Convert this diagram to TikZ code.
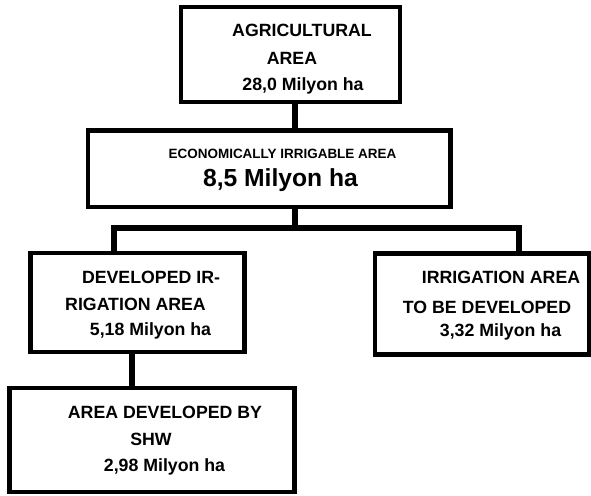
\documentclass[tikz,border=0pt]{standalone}
\usepackage{fontspec}
\setmainfont{Liberation Sans}
\begin{document}
\begin{tikzpicture}[x=0.75pt,y=-0.75pt,
  box/.style={draw=black,line width=3.2pt,rectangle,inner sep=0pt,outer sep=0pt,line join=miter},
  conn/.style={draw=black,line width=4.9pt,line join=miter},
  lbl/.style={anchor=base,inner sep=0pt,font=\fontsize{13.3}{16}\selectfont\bfseries},
  small/.style={anchor=base,inner sep=0pt,font=\fontsize{10.1}{12}\selectfont\bfseries},
  big/.style={anchor=base,inner sep=0pt,font=\fontsize{18.5}{22}\selectfont\bfseries}]
\useasboundingbox[fill=white] (0,0) rectangle (591,495);
% boxes (centre, width, height in px)
\node[box,minimum width=219*0.75pt,minimum height=95*0.75pt] (b1) at (290.5,54.5) {};
\node[box,minimum width=362.5*0.75pt,minimum height=76.5*0.75pt] (b2) at (269.25,168.75) {};
\node[box,minimum width=214*0.75pt,minimum height=99*0.75pt] (b3) at (137.5,302.5) {};
\node[box,minimum width=214*0.75pt,minimum height=101*0.75pt] (b4) at (482,304) {};
\node[box,minimum width=285*0.75pt,minimum height=104*0.75pt] (b5) at (152,440) {};
% connector positions
\coordinate (c1) at (295,0);
\coordinate (cl) at (114,228);
\coordinate (cr) at (519,228);
\coordinate (c3) at (132,0);
\draw[conn] (b1.south -| c1) -- (b2.north -| c1);
\draw[conn] (b2.south -| c1) -- (cl -| c1);
\draw[conn] (b3.north -| cl) -- (cl) -- (cr) -- (b4.north -| cr);
\draw[conn] (b3.south -| c3) -- (b5.north -| c3);
% texts
\node[lbl] (t1a) at (302,37) {AGRICULTURAL};
\node[lbl] (t1b) at (292,65) {AREA};
\node[lbl] (t1c) at (303,91) {28,0 Milyon ha};
\node[small] (t2a) at (282.5,159) {ECONOMICALLY IRRIGABLE AREA};
\node[big] (t2b) at (280.5,186.5) {8,5 Milyon ha};
\node[lbl] (t3a) at (151,283) {DEVELOPED IR-};
\node[lbl] (t3b) at (135.5,310) {RIGATION AREA};
\node[lbl] (t3c) at (150.5,335) {5,18 Milyon ha};
\node[lbl] (t4a) at (501,283) {IRRIGATION AREA};
\node[lbl] (t4b) at (487,313) {TO BE DEVELOPED};
\node[lbl] (t4c) at (500.5,336) {3,32 Milyon ha};
\node[lbl] (t5a) at (165,418) {AREA DEVELOPED BY};
\node[lbl] (t5b) at (151,445) {SHW};
\node[lbl] (t5c) at (164.5,471) {2,98 Milyon ha};
\end{tikzpicture}
\end{document}
